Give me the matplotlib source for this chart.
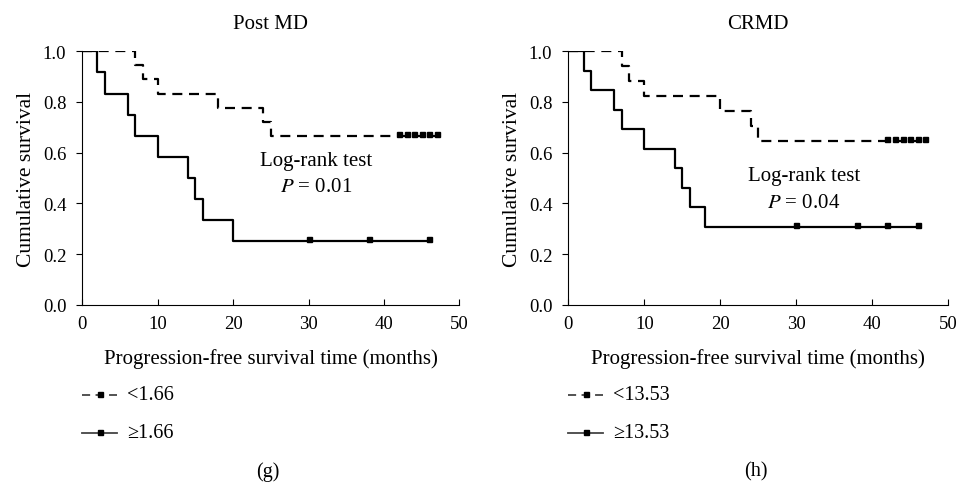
import matplotlib
matplotlib.use("Agg")
import matplotlib.pyplot as plt
from matplotlib.lines import Line2D

plt.rcParams['font.family'] = ['Liberation Serif', 'DejaVu Serif']
plt.rcParams['mathtext.fontset'] = 'stix'

# --- Post MD (g) --- #
post_low_t = [0, 7, 8, 10, 18, 24, 25, 47.4]
post_low_s = [1.0, 0.944, 0.889, 0.833, 0.778, 0.722, 0.667, 0.667]
post_low_cens = [42, 43, 44, 45, 46, 47]
post_high_t = [0, 2, 3, 6, 7, 10, 14, 15, 16, 20, 46.2]
post_high_s = [1.0, 0.917, 0.833, 0.75, 0.667, 0.583, 0.5, 0.417, 0.333, 0.25, 0.25]
post_high_cens = [30, 38, 46]

# --- CRMD (h) --- #
crmd_low_t = [0, 7, 8, 10, 20, 24, 25, 47.4]
crmd_low_s = [1.0, 0.941, 0.882, 0.824, 0.765, 0.706, 0.647, 0.647]
crmd_low_cens = [42, 43, 44, 45, 46, 47]
crmd_high_t = [0, 2, 3, 6, 7, 10, 14, 15, 16, 18, 46]
crmd_high_s = [1.0, 0.923, 0.846, 0.769, 0.692, 0.615, 0.538, 0.462, 0.385, 0.308, 0.308]
crmd_high_cens = [30, 38, 42, 46]

W, H = 958, 485
panels = [
    dict(title="Post MD", tag="(g)", cut="1.66", p="0.01",
         low=(post_low_t, post_low_s, post_low_cens),
         high=(post_high_t, post_high_s, post_high_cens),
         rect=[82.3 / W, 179.2 / H, 377.2 / W, 253.5 / H],
         txt=(31, 0.57, 0.465)),
    dict(title="CRMD", tag="(h)", cut="13.53", p="0.04",
         low=(crmd_low_t, crmd_low_s, crmd_low_cens),
         high=(crmd_high_t, crmd_high_s, crmd_high_cens),
         rect=[568.3 / W, 179.2 / H, 380 / W, 253.5 / H],
         txt=(31, 0.51, 0.405)),
]

DASH = (0, (4.5, 3))
FS = 15      # texte
FT = 13.5    # graduations
fig = plt.figure(figsize=(9.58, 4.85), dpi=100)

for pn in panels:
    ax = fig.add_axes(pn['rect'])

    for key, ls in (("low", DASH), ("high", "-")):
        t, s, cens = pn[key]
        ax.step(t, s, where="post", color="black", linestyle=ls, linewidth=1.6)
        # marques de censure posées sur la courbe
        cy = [s[-1] + 0.008] * len(cens)
        ax.plot(cens, cy, linestyle="none", marker="s",
                markersize=3.6, color="black")

    ax.set_xlim(0, 50)
    ax.set_ylim(0, 1.0)
    ax.set_xticks([0, 10, 20, 30, 40, 50])
    ax.set_yticks([0, 0.2, 0.4, 0.6, 0.8, 1.0])
    ax.set_yticklabels(["0.0", "0.2", "0.4", "0.6", "0.8", "1.0"])
    ax.spines['top'].set_visible(False)
    ax.spines['right'].set_visible(False)
    ax.tick_params(axis='x', direction='in', length=4, labelsize=FT, pad=7)
    ax.tick_params(axis='y', direction='out', length=4.5, labelsize=FT, pad=7)
    ax.set_xlabel("Progression-free survival time (months)", fontsize=FS, labelpad=12)
    ax.set_ylabel("Cumulative survival", fontsize=FS + 0.5, labelpad=5)
    ax.set_title(pn['title'], fontsize=FS, pad=17)

    tx, ty1, ty2 = pn['txt']
    ax.text(tx, ty1, "Log-rank test", ha="center", va="center", fontsize=FS)
    ax.text(tx, ty2, r"$P$ = " + pn['p'], ha="center", va="center", fontsize=FS)

    # Légende dessinée à la main sous le graphique
    x0 = pn['rect'][0] * W
    rows = [(396, DASH, "<" + pn['cut']), (434, "-", "\u2265" + pn['cut'])]
    for ypx, ls, lab in rows:
        yf = 1 - ypx / H
        fig.add_artist(Line2D([(x0 - 0.5) / W, (x0 + 35) / W], [yf, yf],
                              transform=fig.transFigure, color="#444444",
                              linestyle=ls, linewidth=1.3))
        fig.add_artist(Line2D([(x0 + 17.5) / W], [yf + 0.002],
                              transform=fig.transFigure, color="black",
                              marker="s", markersize=3.6, linestyle="none"))
        fig.text((x0 + 44.5) / W, yf, lab, ha="left", va="center", fontsize=14.5)

    fig.text(pn['rect'][0] + pn['rect'][2] / 2 - 0.003, 13 / H, pn['tag'],
             ha="center", va="center", fontsize=FS - 0.5)

fig.savefig("out.png", dpi=100)
